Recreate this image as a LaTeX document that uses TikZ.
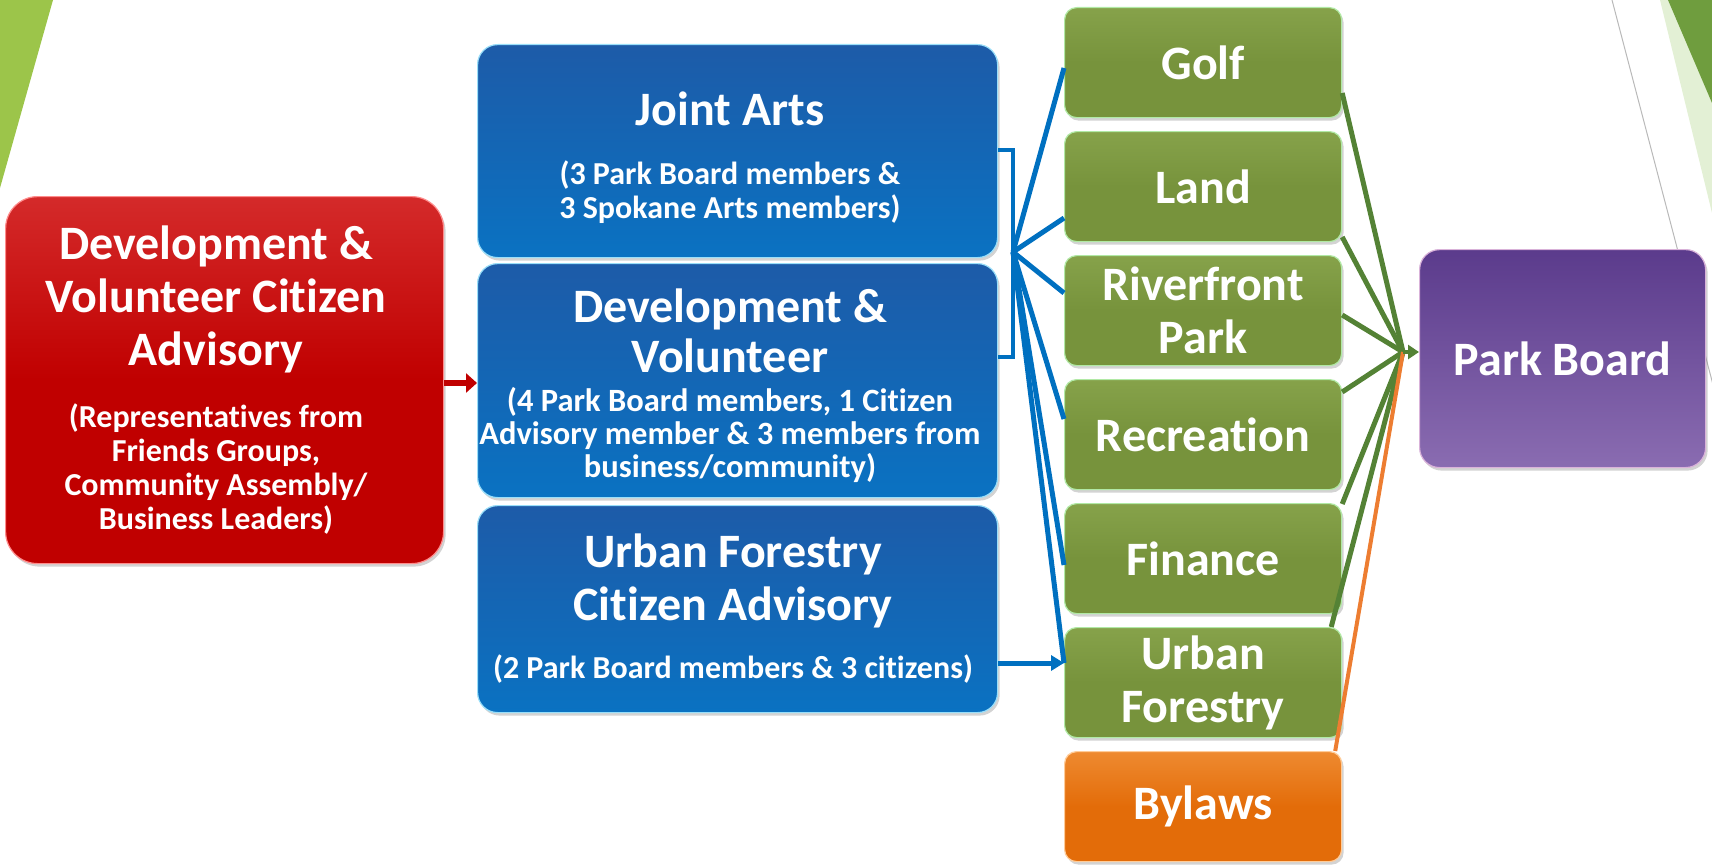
\documentclass[tikz,border=0pt]{standalone}
\usepackage{fontspec}
\setmainfont{Carlito}[Ligatures=NoCommon]
\usetikzlibrary{shadows,arrows.meta}
\definecolor{redA}{HTML}{C00000}
\definecolor{redT}{HTML}{D42A2A}
\definecolor{blueT}{HTML}{1D5BA8}
\definecolor{blueB}{HTML}{0A72C2}
\definecolor{greenA}{HTML}{77933C}
\definecolor{greenT}{HTML}{86A24A}
\definecolor{orangeA}{HTML}{E36C09}
\definecolor{orangeT}{HTML}{EE8A30}
\definecolor{purpT}{HTML}{5B3B8C}
\definecolor{purpB}{HTML}{8A6CB1}
\definecolor{bline}{HTML}{0070C0}
\definecolor{gline}{HTML}{548235}
\definecolor{oline}{HTML}{ED7D31}
\definecolor{bgA}{HTML}{9CC54A}
\definecolor{bgB}{HTML}{E3F0D5}
\definecolor{bgC}{HTML}{6F9D3E}
\tikzset{
  box/.style={anchor=north west, inner sep=0pt, rounded corners=16pt,
    drop shadow={opacity=0.35, shadow xshift=2pt, shadow yshift=-3pt}},
  redbox/.style={box, rounded corners=32pt, top color=redT, bottom color=redA, middle color=redA, draw=red!45!white, line width=1.2pt},
  bluebox/.style={box, rounded corners=20pt, top color=blueT, bottom color=blueB, draw=cyan!40!white, line width=1.2pt},
  greenbox/.style={box, rounded corners=12pt, top color=greenT, bottom color=greenA, middle color=greenA, draw=green!25!white!80!greenA, line width=1.2pt, minimum width=277pt, minimum height=110pt},
  orangebox/.style={greenbox, top color=orangeT, bottom color=orangeA, middle color=orangeA, draw=orange!40!white},
  purpbox/.style={box, rounded corners=20pt, top color=purpT, bottom color=purpB, draw=violet!30!white, line width=1.2pt},
  ttl/.style={text=white, font=\fontsize{48}{53}\selectfont\bfseries, align=center, inner sep=0pt},
  sub/.style={text=white, font=\fontsize{32}{34}\selectfont\bfseries, align=center, inner sep=0pt},
  bconn/.style={draw=bline, line width=5pt},
  gconn/.style={draw=gline, line width=5pt},
  oconn/.style={draw=oline, line width=4pt},
}
\begin{document}
\begin{tikzpicture}[x=1pt,y=-1pt]
\useasboundingbox (0,0) rectangle (1712,867);
% background decorations
\fill[bgA] (0,0) -- (53,0) -- (0,188) -- cycle;
\fill[bgB] (1660,0) -- (1712,0) -- (1712,213) -- cycle;
\fill[bgC] (1668,0) -- (1712,0) -- (1712,103) -- cycle;
\draw[gray!55, line width=1pt] (1612,0) -- (1717,400);

% boxes
\node[redbox, minimum width=438pt, minimum height=367pt] (red) at (5,196) {};
\node[bluebox, minimum width=520pt, minimum height=213pt] (ja) at (477,44) {};
\node[bluebox, minimum width=520pt, minimum height=234pt] (dv) at (477,263) {};
\node[bluebox, minimum width=520pt, minimum height=207pt] (uf) at (477,505) {};
\node[greenbox] (golf) at (1064,7) {};
\node[greenbox] (land) at (1064,131) {};
\node[greenbox] (river) at (1064,255) {};
\node[greenbox] (rec) at (1064,379) {};
\node[greenbox] (fin) at (1064,503) {};
\node[greenbox] (ufg) at (1064,627) {};
\node[orangebox] (bylaws) at (1064,751) {};
\node[purpbox, minimum width=286pt, minimum height=218pt] (pb) at (1419,249) {};

% texts
\node[ttl] (redt) at (216,299) {Development \&\\Volunteer Citizen\\Advisory};
\node[sub] (reds) at (216,469) {(Representatives from\\Friends Groups,\\Community Assembly/\\Business Leaders)};
\node[ttl] (jat) at (730,109) {Joint Arts};
\node[sub] (jas) at (730,192) {(3 Park Board members \&\\3 Spokane Arts members)};
\node[ttl, font=\fontsize{48}{50}\selectfont\bfseries] (dvt) at (730,331) {Development \&\\Volunteer};
\node[sub, font=\fontsize{32.5}{33}\selectfont\bfseries] (dvs) at (730,435) {(4 Park Board members, 1 Citizen\\Advisory member \& 3 members from\\business/community)};
\node[ttl] (uft) at (733,581) {Urban Forestry\\Citizen Advisory};
\node[sub] (ufs) at (733,669) {(2 Park Board members \& 3 citizens)};
\node[ttl] (golft) at (golf.center) {Golf};
\node[ttl] (landt) at (land.center) {Land};
\node[ttl] (rivert) at (river.center) {Riverfront\\Park};
\node[ttl] (rect) at (rec.center) {Recreation};
\node[ttl] (fint) at (fin.center) {Finance};
\node[ttl] (ufgt) at (ufg.center) {Urban\\Forestry};
\node[ttl] (bylawst) at (bylaws.center) {Bylaws};
\node[ttl] (pbt) at (pb.center) {Park Board};

% red arrow
\draw[draw=redA, line width=6pt, -{Triangle[length=11pt,width=19pt]}] (red.east |- 0,383) -- (dv.west |- 0,383);

% blue bracket and hub
\coordinate (hub) at (1013,252);
\draw[bconn, line width=4pt] (ja.east |- 0,150) -- (1013,150) -- (1013,357) -- (dv.east |- 0,357);
\draw[bconn] (hub) -- (golf.west |- 0,68);
\draw[bconn] (hub) -- (land.west |- 0,218);
\draw[bconn] (hub) -- (river.west |- 0,293);
\draw[bconn] (hub) -- (rec.west |- 0,419);
\draw[bconn] (hub) -- (fin.west |- 0,565);
\draw[bconn] (hub) -- (ufg.west |- 0,663);
\draw[bconn, -{Triangle[length=13pt,width=15pt]}] (uf.east |- 0,663) -- (ufg.west |- 0,663);

% green / orange connectors
\coordinate (ghub) at (1403,352);
\draw[gconn] (golf.east |- 0,93) -- (ghub);
\draw[gconn] (land.east |- 0,237) -- (ghub);
\draw[gconn] (river.east |- 0,315) -- (ghub);
\draw[gconn] (rec.east |- 0,392) -- (ghub);
\draw[gconn] (fin.east |- 0,504) -- (ghub);
\draw[gconn] ([xshift=-11pt]ufg.north east) -- (ghub);
\draw[oconn] ([xshift=-7pt]bylaws.north east) -- (ghub);
\draw[gconn, line width=4pt, -{Triangle[length=11pt,width=14pt]}] (ghub) -- (pb.west |- ghub);
\end{tikzpicture}
\end{document}
